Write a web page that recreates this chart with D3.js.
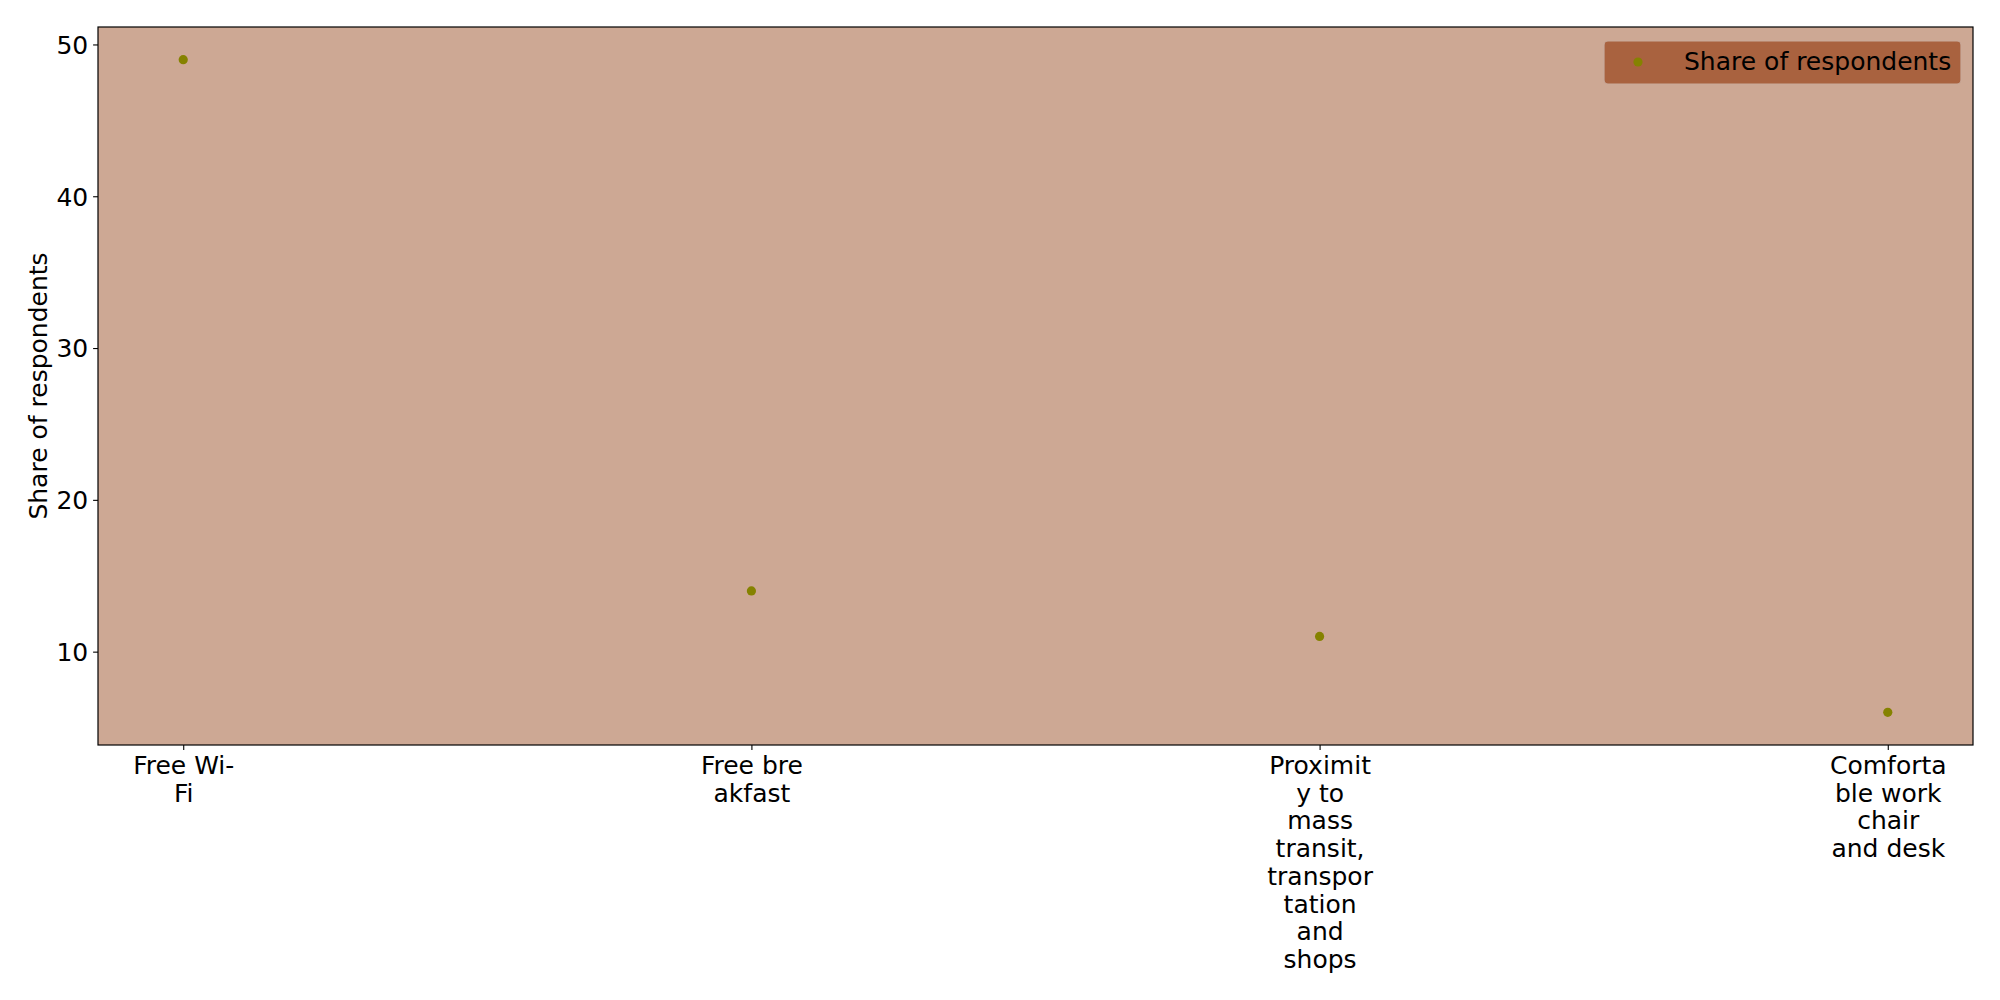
<!DOCTYPE html>
<html>
<head>
<meta charset="utf-8">
<script src="https://cdn.jsdelivr.net/npm/d3@7"></script>
<style>
  html, body { margin: 0; padding: 0; background: #ffffff; }
  text { font-family: "DejaVu Sans", sans-serif; }
</style>
</head>
<body>
<svg id="chart" width="2000" height="1000"></svg>
<script>
const categories = [
  "Free Wi-\nFi",
  "Free bre\nakfast",
  "Proximit\ny to\nmass\ntransit,\ntranspor\ntation\nand\nshops",
  "Comforta\nble work\nchair\nand desk"
];
const values = [49, 14, 11, 6];
const yTicks = [10, 20, 30, 40, 50];
const seriesName = "Share of respondents";
const yLabel = "Share of respondents";

const W = 2000, H = 1000;
const margin = { left: 98, top: 27, right: 27, bottom: 255 };
const pw = W - margin.left - margin.right;
const ph = H - margin.top - margin.bottom;
const fontSize = 25;

const svg = d3.select("#chart");
const g = svg.append("g").attr("transform", `translate(${margin.left},${margin.top})`);

const n = categories.length;
const x = d3.scaleLinear().domain([-0.15, (n - 1) + 0.15]).range([0, pw]);
const yMin = d3.min(values), yMax = d3.max(values);
const pad = (yMax - yMin) * 0.05;
const y = d3.scaleLinear().domain([yMin - pad, yMax + pad]).range([ph, 0]);

// plot background
g.append("rect").attr("x", 0).attr("y", 0).attr("width", pw).attr("height", ph)
  .attr("fill", "#cda894");

// points
g.selectAll("circle.pt").data(values).enter().append("circle")
  .attr("class", "pt")
  .attr("cx", (d, i) => x(i))
  .attr("cy", d => y(d))
  .attr("r", 4.6)
  .attr("fill", "#858200");

// frame
g.append("rect").attr("x", 0).attr("y", 0).attr("width", pw).attr("height", ph)
  .attr("fill", "none").attr("stroke", "#000").attr("stroke-width", 1.2);

// y axis
const yAxis = d3.axisLeft(y).tickValues(yTicks).tickSize(4.9).tickPadding(4.9).tickFormat(d3.format("d"));
const ya = g.append("g").call(yAxis);
ya.select(".domain").remove();
ya.selectAll(".tick line").attr("stroke", "#000").attr("stroke-width", 1.1);
ya.selectAll(".tick text").attr("font-size", fontSize).attr("fill", "#000")
  .attr("font-family", "DejaVu Sans").attr("dy", "0.35em");

// x axis
const xAxis = d3.axisBottom(x).tickValues(d3.range(n)).tickSize(4.9).tickPadding(4.9).tickFormat("");
const xa = g.append("g").attr("transform", `translate(0,${ph})`).call(xAxis);
xa.select(".domain").remove();
xa.selectAll(".tick line").attr("stroke", "#000").attr("stroke-width", 1.1);
const lineH = 27.7;
xa.selectAll(".tick").each(function(d, i) {
  const t = d3.select(this).append("text")
    .attr("text-anchor", "middle")
    .attr("font-size", fontSize)
    .attr("fill", "#000")
    .attr("font-family", "DejaVu Sans");
  categories[i].split("\n").forEach((line, k) => {
    t.append("tspan").attr("x", 0).attr("y", 29 + k * lineH).text(line);
  });
});

// y label
svg.append("text")
  .attr("transform", `translate(47,${margin.top + ph / 2}) rotate(-90)`)
  .attr("text-anchor", "middle")
  .attr("font-size", fontSize)
  .attr("fill", "#000")
  .text(yLabel);

// legend
const lg = svg.append("g");
const lx = 1604, ly = 41, lw = 357, lh = 43;
lg.append("rect").attr("x", lx).attr("y", ly).attr("width", lw).attr("height", lh)
  .attr("rx", 4).attr("ry", 4)
  .attr("fill", "#a9623f").attr("stroke", "#c9a99a").attr("stroke-width", 1.2);
lg.append("circle").attr("cx", 1638).attr("cy", 62).attr("r", 4.6).attr("fill", "#858200");
lg.append("text").attr("x", 1684).attr("y", 70)
  .attr("font-size", fontSize).attr("fill", "#000").text(seriesName);
</script>
</body>
</html>
